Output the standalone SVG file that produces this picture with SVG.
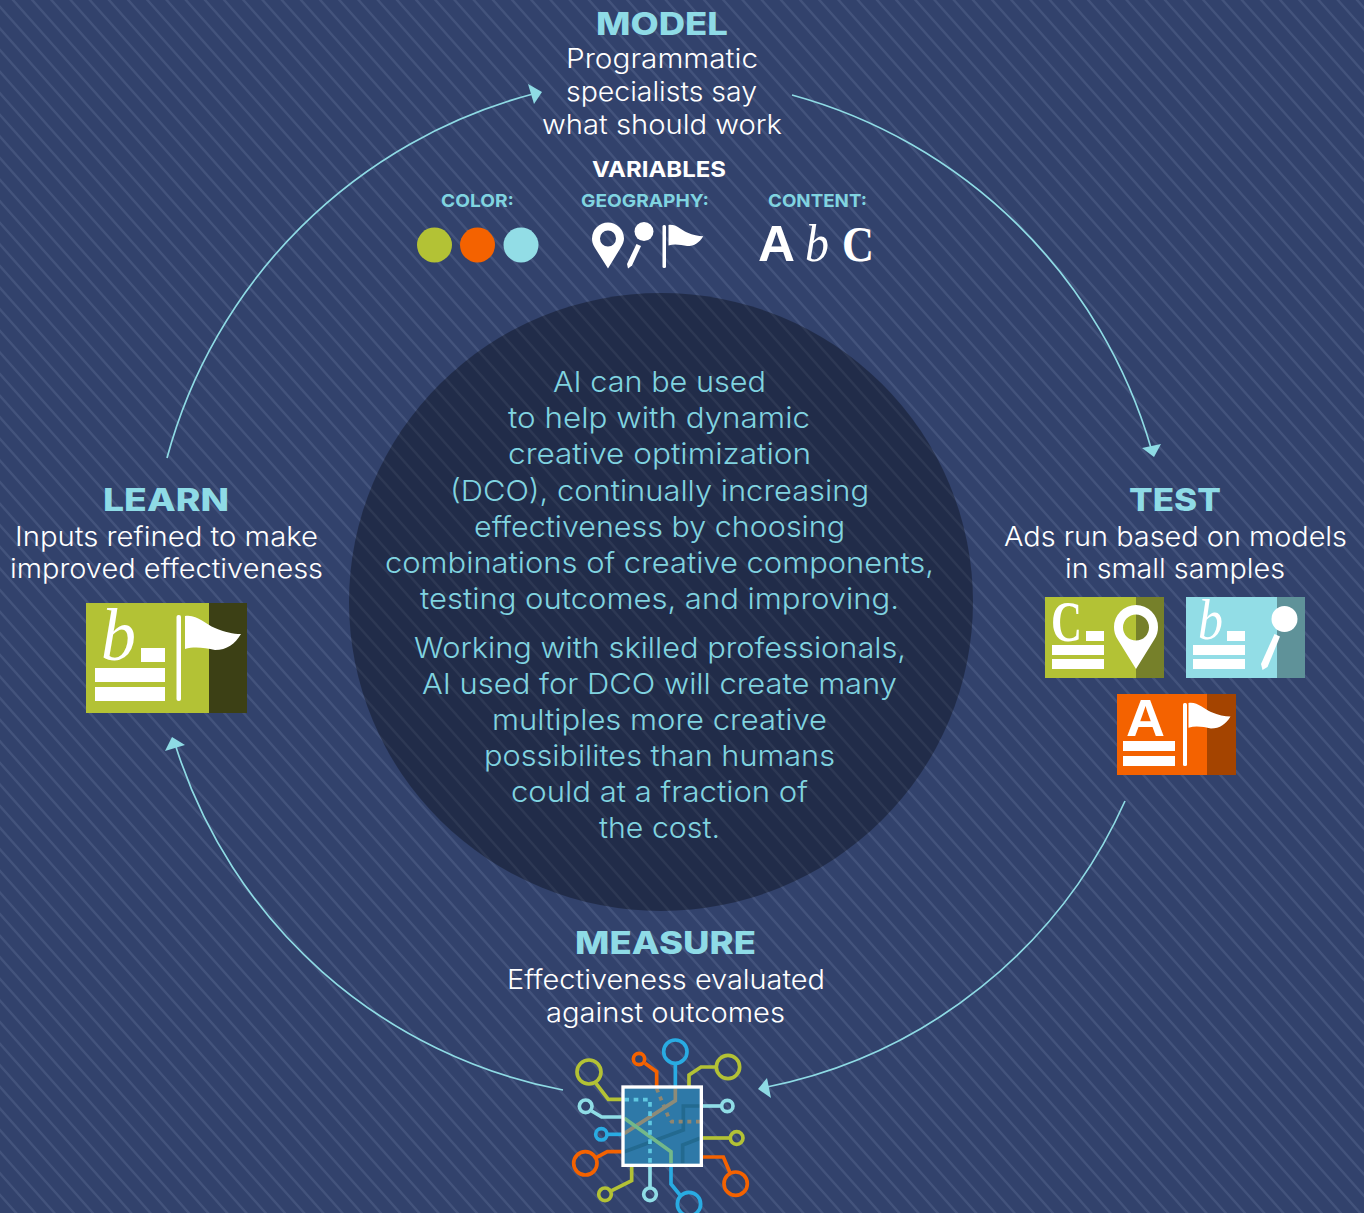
<svg xmlns="http://www.w3.org/2000/svg" width="1364" height="1213" viewBox="0 0 1364 1213">
<style>
text{font-family:Inter,"Open Sans","Liberation Sans",sans-serif}
.h{font-size:31px;font-weight:800;fill:#8edbe6}
.b{font-size:27px;font-weight:300;fill:#fff}
.c{font-size:29px;font-weight:300;fill:#80d4e0}
.v{font-size:22px;font-weight:700;fill:#fff}
.l{font-size:18px;font-weight:700;fill:#80d4e0}
.s{font-family:"Liberation Serif",serif;fill:#fff}
.a{font-family:"Liberation Sans",sans-serif;font-weight:700;fill:#fff}
.w{fill:#fff}
.arc{fill:none;stroke:#8edbe4;stroke-width:1.7}
.tip{fill:#8edbe4}
.wire{fill:none;stroke-width:11}
.ol{stroke:#b3c235}.or{stroke:#f46200}.bl{stroke:#29abe2}.lt{stroke:#8fdde6}
</style>
<defs>
<pattern id="st" patternUnits="userSpaceOnUse" x="13" y="0" width="96" height="108">
<path d="M-104 -9L8 117M-84.800 -9L27.200 117M-65.600 -9L46.400 117M-46.400 -9L65.600 117M-27.200 -9L84.800 117M-8 -9L104 117M11.200 -9L123.200 117M30.400 -9L142.400 117M49.600 -9L161.600 117M68.800 -9L180.800 117M88 -9L200 117" stroke="#43537c" stroke-width="2.300" fill="none"/>
</pattern>
<path id="flag" d="M0 0C12 -2 20 8 30 12C40 16 48 18 56 18C50 28 42 34 30 34C20 32 10 30 0 33Z" fill="#fff"/>
</defs>
<rect id="background" width="1364" height="1213" fill="#32426c"/>
<rect width="1364" height="1213" fill="url(#st)"/>
<ellipse id="centre-disc" cx="661" cy="602" rx="312" ry="309" fill="#000" fill-opacity=".32"/>

<g id="connectors">
<path class="arc" d="M167 458A515 515 0 0 1 533 94"/>
<path class="tip" d="M542 92L528 84L534 104Z"/>
<path class="arc" d="M792 95A515 515 0 0 1 1151 448"/>
<path class="tip" d="M1154 457L1142 448L1161 444Z"/>
<path class="arc" d="M1125 801A500 500 0 0 1 767 1087"/>
<path class="tip" d="M758 1089L767 1078L771 1098Z"/>
<path class="arc" d="M563 1090A505 505 0 0 1 176 747"/>
<path class="tip" d="M172 737L165 751L185 745Z"/>
</g>

<g id="model">
<text class="h" x="596" y="35" textLength="132" lengthAdjust="spacingAndGlyphs">MODEL</text>
<text class="b" x="566" y="68" textLength="192" lengthAdjust="spacingAndGlyphs">Programmatic</text>
<text class="b" x="566" y="101" textLength="191" lengthAdjust="spacingAndGlyphs">specialists say</text>
<text class="b" x="542" y="134" textLength="240" lengthAdjust="spacingAndGlyphs">what should work</text>
</g>

<g id="variables">
<text class="v" x="592" y="177" textLength="134" lengthAdjust="spacingAndGlyphs">VARIABLES</text>
<text class="l" x="441" y="207" textLength="73" lengthAdjust="spacingAndGlyphs">COLOR:</text>
<text class="l" x="581" y="207" textLength="128" lengthAdjust="spacingAndGlyphs">GEOGRAPHY:</text>
<text class="l" x="768" y="207" textLength="99" lengthAdjust="spacingAndGlyphs">CONTENT:</text>
<circle cx="434.500" cy="245" r="17.500" fill="#b3c235"/>
<circle cx="477.500" cy="245" r="17.500" fill="#f46200"/>
<circle cx="521" cy="245" r="17.500" fill="#92dde6"/>
<path class="w" fill-rule="evenodd" d="M608 268.500L595 248C592.500 244 592 241 592 238.500A16 16 0 0 1 624 238.500C624 241 623 244 620.500 248ZM608 230.500A8 8 0 1 0 608 246.500A8 8 0 1 0 608 230.500Z"/>
<circle class="w" cx="644" cy="231.500" r="9.500"/>
<path class="w" d="M636.500 244L641 246L632 265.500L628 268.500L627 264Z"/>
<rect class="w" x="662.500" y="225" width="3.500" height="43" rx="1.500"/>
<use href="#flag" transform="translate(668.500 225) scale(.62)"/>
<text class="a" x="758" y="261" font-size="50" textLength="37" lengthAdjust="spacingAndGlyphs">A</text>
<text class="s" x="805" y="261" font-size="52" font-style="italic" textLength="24" lengthAdjust="spacingAndGlyphs">b</text>
<text class="s" x="842" y="261" font-size="50" font-weight="700" textLength="32" lengthAdjust="spacingAndGlyphs">C</text>
</g>

<g id="centre-text">
<text class="c" x="553" y="392" textLength="213" lengthAdjust="spacingAndGlyphs">AI can be used</text>
<text class="c" x="508" y="428" textLength="302" lengthAdjust="spacingAndGlyphs">to help with dynamic</text>
<text class="c" x="508" y="464" textLength="303" lengthAdjust="spacingAndGlyphs">creative optimization</text>
<text class="c" x="450" y="501" textLength="419" lengthAdjust="spacingAndGlyphs">(DCO), continually increasing</text>
<text class="c" x="474" y="537" textLength="371" lengthAdjust="spacingAndGlyphs">effectiveness by choosing</text>
<text class="c" x="385" y="573" textLength="549" lengthAdjust="spacingAndGlyphs">combinations of creative components,</text>
<text class="c" x="420" y="609" textLength="479" lengthAdjust="spacingAndGlyphs">testing outcomes, and improving.</text>
<text class="c" x="414" y="658" textLength="492" lengthAdjust="spacingAndGlyphs">Working with skilled professionals,</text>
<text class="c" x="422" y="694" textLength="475" lengthAdjust="spacingAndGlyphs">AI used for DCO will create many</text>
<text class="c" x="492" y="730" textLength="335" lengthAdjust="spacingAndGlyphs">multiples more creative</text>
<text class="c" x="484" y="766" textLength="351" lengthAdjust="spacingAndGlyphs">possibilites than humans</text>
<text class="c" x="511" y="802" textLength="297" lengthAdjust="spacingAndGlyphs">could at a fraction of</text>
<text class="c" x="599" y="838" textLength="121" lengthAdjust="spacingAndGlyphs">the cost.</text>
</g>

<g id="learn">
<text class="h" x="103" y="511" textLength="126" lengthAdjust="spacingAndGlyphs">LEARN</text>
<text class="b" x="15" y="545.500" textLength="303" lengthAdjust="spacingAndGlyphs">Inputs refined to make</text>
<text class="b" x="10" y="577.500" textLength="313" lengthAdjust="spacingAndGlyphs">improved effectiveness</text>
<rect x="86" y="603" width="123" height="110" fill="#b3c235"/>
<rect x="209" y="603" width="38" height="110" fill="#3c4015"/>
<text class="s" x="101" y="660" font-size="73" font-style="italic" textLength="35" lengthAdjust="spacingAndGlyphs">b</text>
<rect class="w" x="141" y="648" width="24" height="14"/>
<rect class="w" x="95" y="668" width="70" height="14"/>
<rect class="w" x="95" y="687" width="70" height="14"/>
<rect class="w" x="176.500" y="615" width="4.500" height="86" rx="2"/>
<use href="#flag" transform="translate(185 616)"/>
</g>

<g id="test">
<text class="h" x="1129" y="511" textLength="92" lengthAdjust="spacingAndGlyphs">TEST</text>
<text class="b" x="1004" y="545.500" textLength="343" lengthAdjust="spacingAndGlyphs">Ads run based on models</text>
<text class="b" x="1065" y="577.500" textLength="220" lengthAdjust="spacingAndGlyphs">in small samples</text>

<rect x="1045" y="597" width="91" height="81" fill="#b3c235"/>
<rect x="1136" y="597" width="28" height="81" fill="#76802a"/>
<text class="s" x="1051" y="641" font-size="56" font-weight="700" textLength="31" lengthAdjust="spacingAndGlyphs">C</text>
<rect class="w" x="1086" y="631" width="18" height="10"/>
<rect class="w" x="1052" y="645" width="52" height="10"/>
<rect class="w" x="1052" y="659" width="52" height="10"/>
<path class="w" fill-rule="evenodd" d="M1136 669L1118 640C1115 636 1114 631 1114 627A22 22 0 0 1 1158 627C1158 631 1157 636 1154 640ZM1136 614.500A13 13 0 1 0 1136 640.500A13 13 0 1 0 1136 614.500Z"/>

<rect x="1186" y="597" width="91" height="81" fill="#92dde6"/>
<rect x="1277" y="597" width="28" height="81" fill="#5f9299"/>
<text class="s" x="1198" y="639" font-size="56" font-style="italic" textLength="25" lengthAdjust="spacingAndGlyphs">b</text>
<rect class="w" x="1227" y="631" width="18" height="10"/>
<rect class="w" x="1193" y="645" width="52" height="10"/>
<rect class="w" x="1193" y="659" width="52" height="10"/>
<circle class="w" cx="1284.500" cy="619" r="13"/>
<path class="w" d="M1274.500 634L1280 636.500L1267.500 667L1262.500 670L1261 664Z"/>

<rect x="1117" y="694" width="90" height="81" fill="#f46200"/>
<rect x="1207" y="694" width="29" height="81" fill="#a44400"/>
<text class="a" x="1126" y="736" font-size="52" textLength="39" lengthAdjust="spacingAndGlyphs">A</text>
<rect class="w" x="1123" y="741" width="52" height="10"/>
<rect class="w" x="1123" y="756" width="52" height="10"/>
<rect class="w" x="1183" y="703" width="4" height="63" rx="1.500"/>
<use href="#flag" transform="translate(1188.500 703) scale(.75)"/>
</g>

<g id="measure">
<text class="h" x="575" y="954" textLength="181" lengthAdjust="spacingAndGlyphs">MEASURE</text>
<text class="b" x="507" y="988.500" textLength="318" lengthAdjust="spacingAndGlyphs">Effectiveness evaluated</text>
<text class="b" x="546" y="1021.500" textLength="239" lengthAdjust="spacingAndGlyphs">against outcomes</text>
<g transform="translate(560 1030) scale(.33333)">
<g class="wire ol"><circle cx="87" cy="126" r="36"/><path d="M108 160L145 208H185"/></g>
<g class="wire or"><circle cx="237" cy="87" r="17"/><path d="M255 100L290 125V170"/></g>
<g class="wire bl"><circle cx="346" cy="65" r="35"/><path d="M346 100V170"/></g>
<g class="wire ol"><circle cx="504" cy="111" r="35"/><path d="M468 111H423L387 135V170"/></g>
<g class="wire lt"><circle cx="77" cy="229" r="19"/><path d="M95 243L125 261H185"/></g>
<g class="wire bl"><circle cx="124" cy="313" r="17"/><path d="M141 313H185"/></g>
<g class="wire or"><circle cx="76" cy="400" r="35"/><path d="M110 382L142 365H185"/></g>
<g class="wire ol"><circle cx="135" cy="493" r="19"/><path d="M155 482L215 452V410"/></g>
<g class="wire lt"><circle cx="270" cy="493" r="19"/><path d="M270 474V410"/></g>
<g class="wire bl"><circle cx="387" cy="522" r="35"/><path d="M360 495L333 462V410"/></g>
<g class="wire lt"><circle cx="502" cy="228" r="17"/><path d="M429 228H485"/></g>
<g class="wire ol"><circle cx="530" cy="324" r="19"/><path d="M429 324H511"/></g>
<g class="wire or"><circle cx="527" cy="461" r="35"/><path d="M510 428L490 381H429"/></g>
<rect x="189" y="171" width="235" height="235" fill="#2e79a8"/>
<path class="wire" stroke="#236a90" d="M193 365L370 300V228H420M420 325L368 345V400"/>
<path class="wire" stroke="#8f8670" stroke-width="12" stroke-dasharray="12 14" d="M290 176L325 260L335 275H420"/>
<path class="wire" stroke="#8d8b78" d="M346 175V212L193 310"/>
<path class="wire" stroke="#72b88a" d="M193 265L333 365V400"/>
<path class="wire" stroke="#5ec7e0" stroke-width="12" stroke-dasharray="14 14" d="M193 209H270V400"/>
<rect x="189" y="171" width="235" height="235" fill="none" stroke="#fff" stroke-width="10"/>
</g>
</g>
</svg>
